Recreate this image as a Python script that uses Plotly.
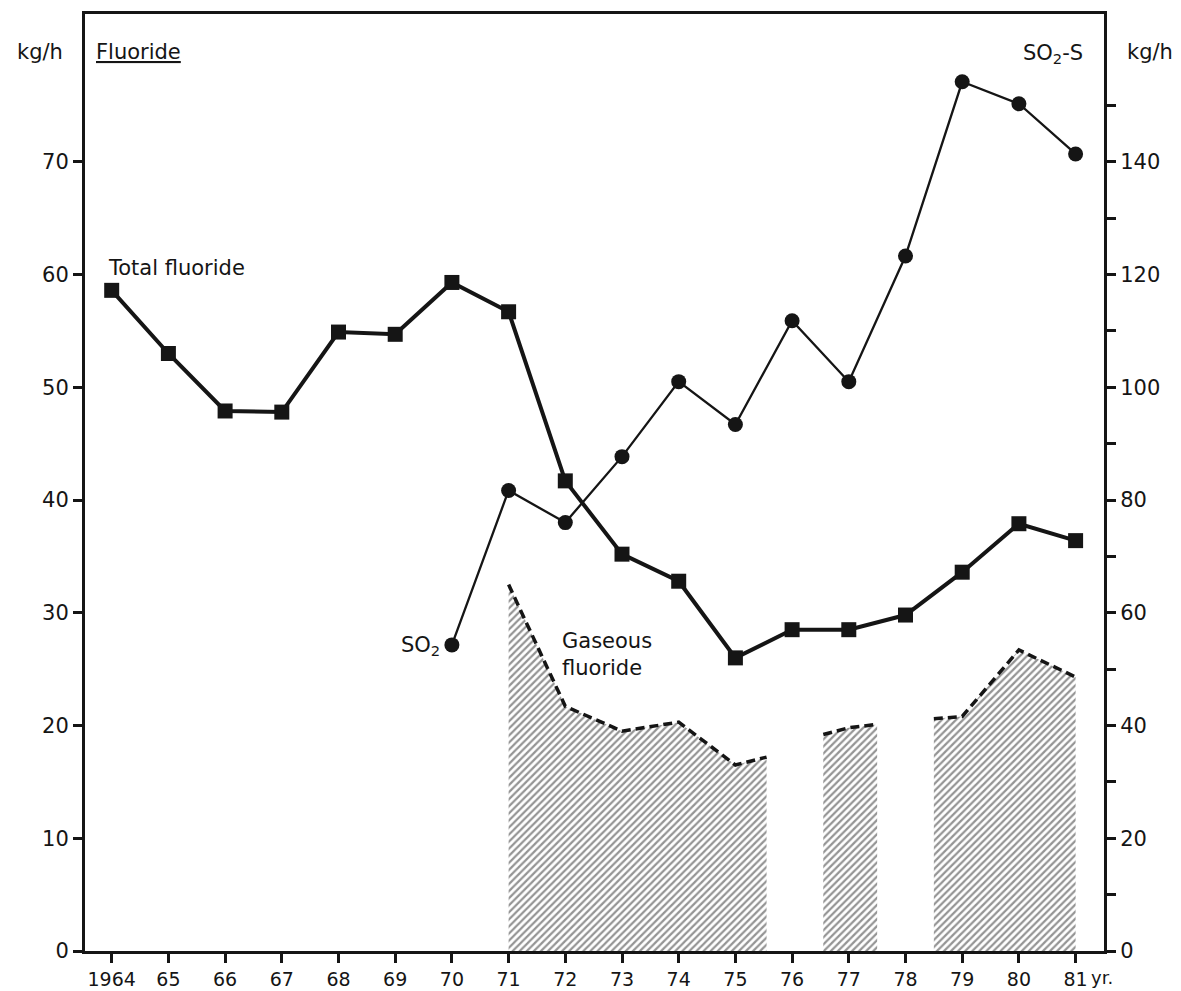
import plotly.graph_objects as go

# ---------------- data ----------------
years = list(range(1964, 1982))
year_ticktext = ["1964"] + [str(y)[2:] for y in years[1:]]

total_fluoride = [58.6, 53.0, 47.9, 47.8, 54.9, 54.7, 59.3, 56.7, 41.7,
                  35.2, 32.8, 26.0, 28.5, 28.5, 29.8, 33.6, 37.9, 36.4]

so2_years = list(range(1970, 1982))
so2_s = [54.3, 81.7, 76.0, 87.7, 101.0, 93.4, 111.8, 101.0, 123.3,
         154.2, 150.3, 141.4]

gas1_x = [1971, 1972, 1973, 1974, 1975, 1975.55]
gas1_y = [32.5, 21.7, 19.5, 20.3, 16.5, 17.2]
gas2_x = [1976.55, 1977, 1977.5]
gas2_y = [19.2, 19.8, 20.1]
gas3_x = [1978.5, 1979, 1980, 1981]
gas3_y = [20.6, 20.8, 26.7, 24.3]

left_ticks = [0, 10, 20, 30, 40, 50, 60, 70]
right_ticks = [0, 20, 40, 60, 80, 100, 120, 140]
right_minor_ticks = [10, 30, 50, 70, 90, 110, 130, 150]

# ---------------- layout constants ----------------
W, H = 1181, 991
L, R, T, B = 85, 1104, 14, 951.5
FONT = "DejaVu Sans"
INK = "#151515"


def px(x):
    return (x - L) / (R - L)


def py(y):
    return (B - y) / (B - T)


fig = go.Figure()

hatch = dict(shape="/", fgcolor="#2a2a2a", bgcolor="white", size=5, solidity=0.45)
for gx, gy in [(gas1_x, gas1_y), (gas2_x, gas2_y), (gas3_x, gas3_y)]:
    fig.add_trace(go.Scatter(
        x=gx, y=gy, mode="lines", fill="tozeroy", fillpattern=hatch,
        fillcolor="white",
        line=dict(color=INK, width=3.5, dash="9px,5px"),
        showlegend=False, hoverinfo="skip"))

fig.add_trace(go.Scatter(
    x=years, y=total_fluoride, mode="lines+markers",
    line=dict(color=INK, width=4),
    marker=dict(symbol="square", size=15, color=INK),
    showlegend=False))

fig.add_trace(go.Scatter(
    x=so2_years, y=so2_s, mode="lines+markers", yaxis="y2",
    line=dict(color=INK, width=2.3),
    marker=dict(symbol="circle", size=15, color=INK),
    showlegend=False))

xr = [1964 + (L - 111.7) / 56.7, 1964 + (R - 111.7) / 56.7]
ytop = (B - T) / 11.28

fig.update_layout(
    width=W, height=H,
    margin=dict(l=L, r=W - R, t=T, b=H - B, autoexpand=False),
    paper_bgcolor="white", plot_bgcolor="white",
    font=dict(family=FONT, size=21, color=INK),
    xaxis=dict(range=xr, tickvals=years, ticktext=year_ticktext,
               automargin=False, tickfont=dict(size=19),
               showgrid=False, zeroline=False, showline=True, mirror=True,
               linecolor=INK, linewidth=3, ticks="outside", ticklen=9,
               tickwidth=2.5, tickcolor=INK),
    yaxis=dict(range=[0, ytop], tickvals=left_ticks, showgrid=False,
               automargin=False,
               zeroline=False, showline=True, linecolor=INK, linewidth=3,
               ticks="outside", ticklen=9, tickwidth=2.5, tickcolor=INK),
    yaxis2=dict(range=[0, 2 * ytop], overlaying="y", side="right",
                tickvals=right_ticks,
                minor=dict(tickvals=right_minor_ticks, ticks="outside",
                           ticklen=9, tickwidth=2.5, tickcolor=INK,
                           showgrid=False),
                automargin=False,
                showgrid=False, zeroline=False, showline=True, linecolor=INK,
                linewidth=3, ticks="outside", ticklen=9, tickwidth=2.5,
                tickcolor=INK),
)


def note(text, x, y, xanchor="left", size=21, align="left"):
    fig.add_annotation(text=text, x=px(x), y=py(y), xref="paper", yref="paper",
                       showarrow=False, xanchor=xanchor, yanchor="middle",
                       align=align,
                       font=dict(family=FONT, size=size, color=INK))


note("kg/h", 40, 52, "center")
note("<u>Fluoride</u>", 94, 52)
note("SO<sub>2</sub>-S", 1085, 54, "right")
note("kg/h", 1150, 52, "center")
note("Total fluoride", 106, 268)
note("SO<sub>2</sub>", 442, 646, "right")
note("Gaseous<br>fluoride", 560, 655)
note("yr.", 1089, 978, size=18)

fig.write_html("out.html",
               config={"displayModeBar": False},
               post_script="document.body.style.margin='0px';"
                           "document.body.style.padding='0px';")
